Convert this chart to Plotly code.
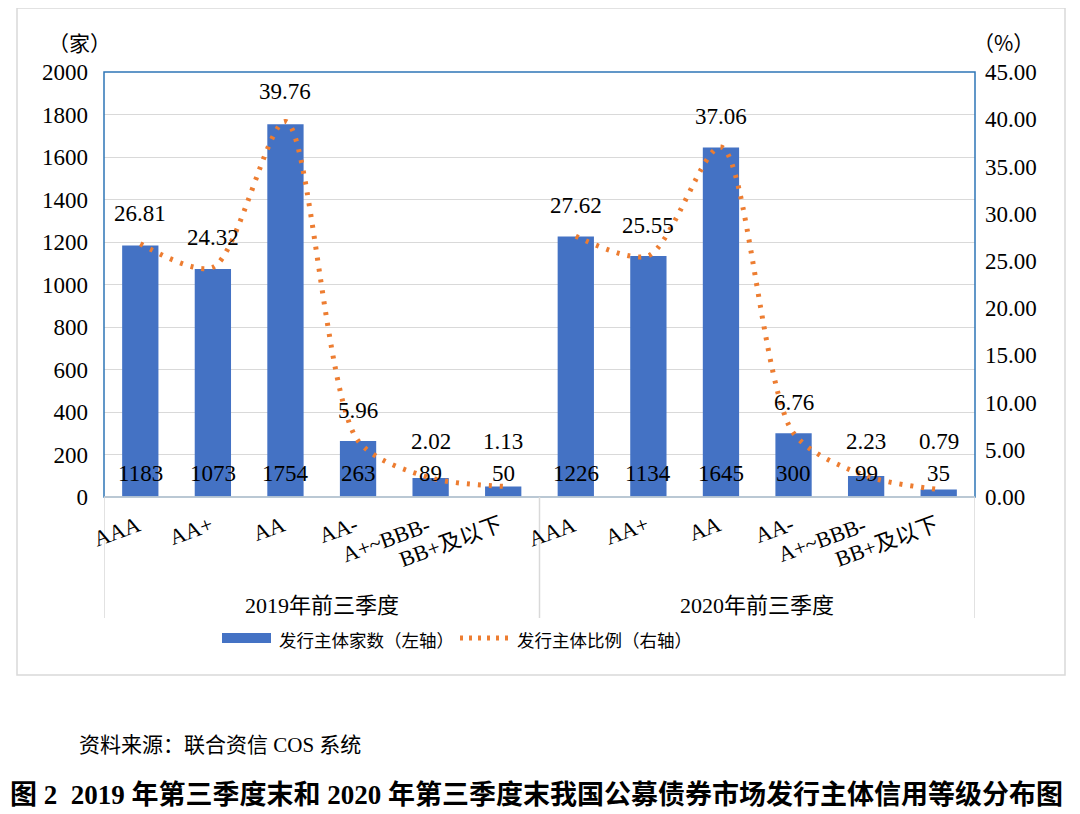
import plotly.graph_objects as go

# data
ratings = ["AAA", "AA+", "AA", "AA-", "A+~BBB-", "BB+及以下"]
groups = ["2019年前三季度", "2020年前三季度"]
counts_2019 = [1183, 1073, 1754, 263, 89, 50]
counts_2020 = [1226, 1134, 1645, 300, 99, 35]
ratio_2019 = [26.81, 24.32, 39.76, 5.96, 2.02, 1.13]
ratio_2020 = [27.62, 25.55, 37.06, 6.76, 2.23, 0.79]
left_ticks = [0, 200, 400, 600, 800, 1000, 1200, 1400, 1600, 1800, 2000]
right_ticks = [0, 5, 10, 15, 20, 25, 30, 35, 40, 45]

W, H = 1080, 814
OFF = 8  # page body margin
L, R, T, B = 104, 975, 72, 497  # plot area in screen pixels

def px(x):
    return (x - L) / (R - L)

def py(y):
    return (B - y) / (B - T)

SERIF = "Liberation Serif, Noto Sans CJK SC"
CJK = "Noto Sans CJK SC"
BLUE = "#4472C4"
ORANGE = "#ED7D31"
GRAY = "#D9D9D9"

n = len(ratings)
xs = list(range(2 * n))
counts = counts_2019 + counts_2020
ratios = ratio_2019 + ratio_2020

fig = go.Figure()
fig.add_trace(go.Bar(x=xs, y=counts, width=0.5, marker=dict(color=BLUE, line=dict(width=0)),
                     name="发行主体家数（左轴）", showlegend=False))
# line broken between the two years
lx = list(range(n)) + [None] + list(range(n, 2 * n))
ly = ratio_2019 + [None] + ratio_2020
fig.add_trace(go.Scatter(x=lx, y=ly, yaxis="y2", mode="lines", connectgaps=False,
                         line=dict(color=ORANGE, width=5, dash="3px,8px", shape="spline", smoothing=0.8),
                         name="发行主体比例（右轴）", showlegend=False))

def note(x, y, text, size, family=CJK, xanchor="center", yanchor="middle", **kw):
    return dict(x=px(x), y=py(y), xref="paper", yref="paper", text=text, showarrow=False,
                xanchor=xanchor, yanchor=yanchor, font=dict(family=family, size=size, color="black"), **kw)

ann = []
for i, (c, r) in enumerate(zip(counts, ratios)):
    ann.append(dict(x=i, y=0, yref="y", text=str(c), showarrow=False, yshift=24,
                    xanchor="center", yanchor="middle",
                    font=dict(family=SERIF, size=23, color="black")))
    ann.append(dict(x=i, y=max(r + 3.2, 5.9), yref="y2", text=f"{r:.2f}", showarrow=False,
                    xanchor="center", yanchor="middle",
                    font=dict(family=SERIF, size=23, color="black")))
    ann.append(dict(x=i + 0.08, y=py(509), yref="paper", text=ratings[i % n], showarrow=False,
                    xanchor="right", yanchor="top", textangle=-20,
                    font=dict(family=SERIF, size=22, color="black")))
for g, name in enumerate(groups):
    ann.append(dict(x=g * n + (n - 1) / 2, y=py(605), yref="paper", text=name, showarrow=False,
                    xanchor="center", yanchor="middle",
                    font=dict(family=SERIF, size=22, color="black")))

ann += [
    note(79, 42, "（家）", 21),
    note(1003, 42, "（%）", 21),
    note(277, 639, "发行主体家数（左轴）", 17.5, xanchor="left"),
    note(515, 639, "发行主体比例（右轴）", 17.5, xanchor="left"),
    note(77, 745, "资料来源：联合资信 COS 系统", 21, family=SERIF, xanchor="left"),
    note(536, 795, "<b>图 2  2019 年第三季度末和 2020 年第三季度末我国公募债券市场发行主体信用等级分布图</b>",
         27, family=SERIF),
]

shapes = [
    # outer chart frame
    dict(type="rect", xref="paper", yref="paper", x0=px(17), x1=px(1065), y0=py(675), y1=py(8),
         line=dict(color=GRAY, width=1.5), layer="below"),
    # plot border
    dict(type="rect", xref="paper", yref="paper", x0=0, x1=1, y0=0, y1=1,
         line=dict(color="#2E75B6", width=1.5)),
    dict(type="line", xref="paper", yref="paper", x0=0, x1=1, y0=0, y1=0,
         line=dict(color=GRAY, width=1.5)),
    # legend symbols
    dict(type="rect", xref="paper", yref="paper", x0=px(222), x1=px(271), y0=py(643), y1=py(633),
         fillcolor=BLUE, line=dict(width=0)),
    dict(type="line", xref="paper", yref="paper", x0=px(460), x1=px(509), y0=py(638), y1=py(638),
         line=dict(color=ORANGE, width=5, dash="3px,6px")),
]
for xv in [-0.5, n - 0.5, 2 * n - 0.5]:
    shapes.append(dict(type="line", xref="x", yref="paper", x0=xv, x1=xv, y0=0, y1=py(618),
                       line=dict(color=GRAY, width=1.5)))

fig.update_layout(
    width=W, height=H,
    margin=dict(l=L - OFF, r=W - (R - OFF), t=T - OFF, b=H - (B - OFF)),
    paper_bgcolor="white", plot_bgcolor="white",
    bargap=0.5,
    xaxis=dict(range=[-0.5, 2 * n - 0.5], showticklabels=False, showgrid=False, zeroline=False,
               ticks=""),
    yaxis=dict(range=[0, 2000], tickvals=left_ticks, showgrid=True, gridcolor=GRAY, gridwidth=1.2,
               zeroline=False, ticklabelstandoff=15,
               tickfont=dict(family=SERIF, size=23, color="black")),
    yaxis2=dict(range=[0, 45], tickvals=right_ticks, tickformat=".2f", overlaying="y", side="right",
                showgrid=False, zeroline=False, ticklabelstandoff=9,
                tickfont=dict(family=SERIF, size=23, color="black")),
    annotations=ann,
    shapes=shapes,
)

fig.write_html("out.html")
